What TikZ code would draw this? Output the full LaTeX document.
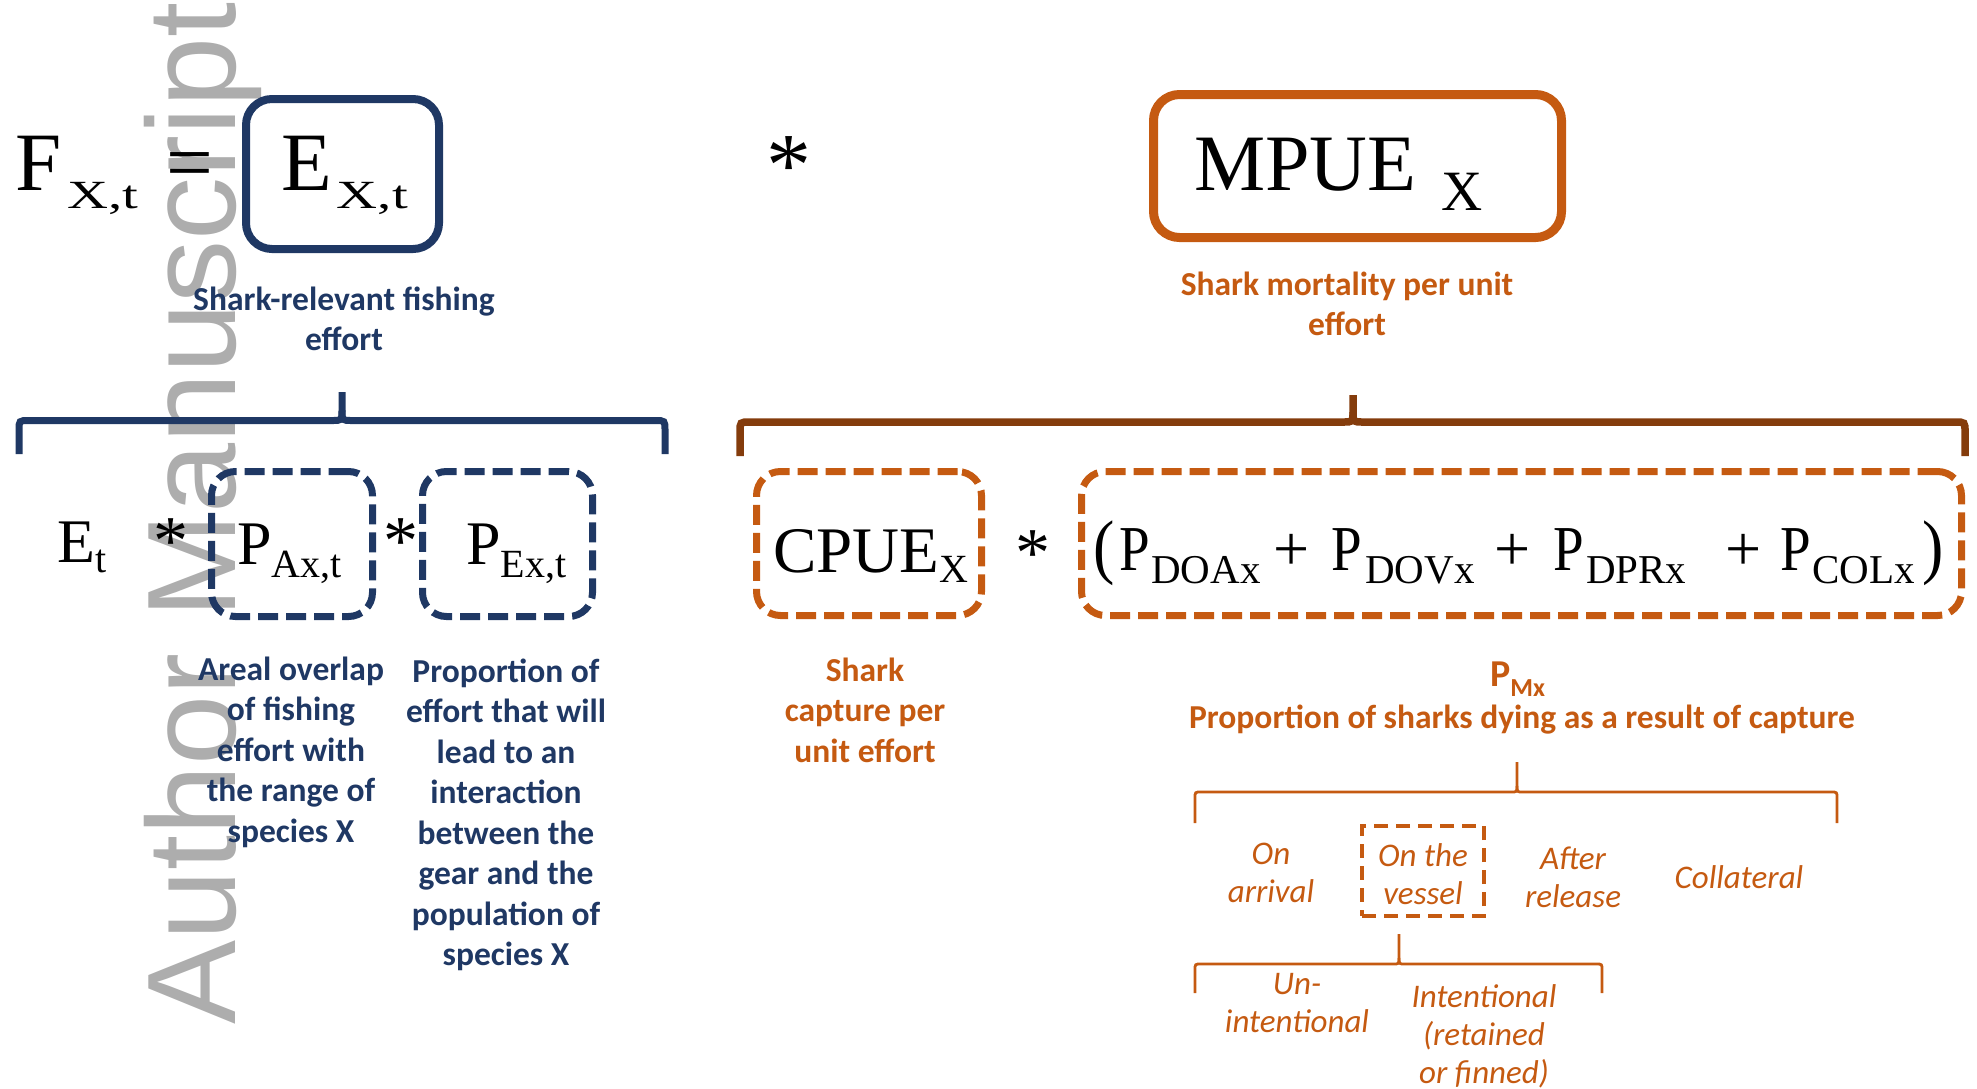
\documentclass[tikz,border=0pt]{standalone}
\usepackage{fontspec}
\setmainfont{Liberation Serif}
\newfontfamily\capfont{Carlito}
\newfontfamily\wmfont{Liberation Sans}
\definecolor{navy}{HTML}{1F3864}
\definecolor{orng}{HTML}{C55A11}
\definecolor{brwn}{HTML}{843C0C}
\definecolor{wmgray}{HTML}{ADADAD}
\newcommand{\fsb}[2]{\fontsize{#1}{#2}\selectfont}
\newcommand{\sbx}[3]{\raisebox{-#1pt}{\fontsize{#2}{#2}\selectfont #3}}
\newcommand{\wsbx}[3]{\raisebox{-#1pt}{\fontsize{#2}{#2}\selectfont\scalebox{1.42}[1]{#3}}}
\newcommand{\mybrace}[8]{%
  \draw[#1] (#2,#6) -- (#2,#5+#8) .. controls (#2,#5) and (#2,#5) .. (#2+#8,#5)
     -- (#4-#8,#5) .. controls (#4,#5) and (#4,#5) .. (#4,#5-#8) -- (#4,#7);
  \draw[#1] (#4,#5-#8) .. controls (#4,#5) and (#4,#5) .. (#4+#8,#5)
     -- (#3-#8,#5) .. controls (#3,#5) and (#3,#5) .. (#3,#5+#8) -- (#3,#6);
}
\tikzset{
  mtext/.style={anchor=base west, inner sep=0pt, text=black},
  ctext/.style={anchor=base, inner sep=0pt, text=black},
  solidbox/.style={draw=#1, line width=8pt, rounded corners=26pt, inner sep=0pt},
  dashbox/.style={draw=#1, line width=7pt, rounded corners=24pt, dash pattern=on 20pt off 8pt, inner sep=0pt},
  vesselbox/.style={draw=orng, line width=4pt, dash pattern=on 14pt off 8pt, inner sep=0pt},
  capn/.style={font=\capfont\bfseries\fsb{33.5}{40.5}, align=center, text=navy, inner sep=0pt},
  capo/.style={font=\capfont\bfseries\fsb{33.5}{40.5}, align=center, text=orng, inner sep=0pt},
  itl/.style={font=\capfont\itshape\fsb{33}{38}, align=center, text=orng, inner sep=0pt},
  wm/.style={font=\wmfont\fsb{126}{126}, text=wmgray, inner sep=0pt},
  mainf/.style={font=\fsb{64}{64}},
  subf/.style={font=\fsb{41}{41}},
  navybr/.style={draw=navy, line width=7pt},
  brwnbr/.style={draw=brwn, line width=7.5pt},
  thinbr/.style={draw=orng, line width=2.8pt}
}
\newcommand{\nP}{\scalebox{0.86}[1]{P}}
\begin{document}
\begin{tikzpicture}[x=1pt,y=-1pt]
\useasboundingbox (0,0) rectangle (1977,1088);
% watermark
\node[wm, rotate=90, anchor=base west] (wm) at (235,1025) {Author Manuscript};
% ---- top row
\node[mtext, font=\fsb{83}{83}] (F) at (15,190) {F\hspace{6pt}\wsbx{18}{40}{X,t}};
\node[mtext, font=\fsb{83}{83}] (eq) at (166,190) {=};
\node[solidbox=navy, minimum width=193pt, minimum height=150pt] (Ebox) at (342.5,174) {};
\node[mtext, font=\fsb{83}{83}] (Etext) at (281,190) {E\hspace{5pt}\wsbx{18}{40}{X,t}};
\node[capn] (Ecap) at (344,319) {Shark-relevant fishing\\effort};
\node[ctext, font=\fsb{90}{90}] (s1) at (789,195) {*};
\node[solidbox=orng, line width=9pt, minimum width=408pt, minimum height=143pt] (Mbox) at (1357.5,166) {};
\node[mtext, font=\fsb{80}{80}] (Mtext) at (1194,190) {MPUE\hspace{25pt}\sbx{20}{57}{X}};
\node[capo] (Mcap) at (1347,304) {Shark mortality per unit\\effort};
% ---- braces
\mybrace{navybr}{19}{665}{342}{420.5}{454}{392}{10}
\mybrace{brwnbr}{740}{1965}{1353}{422}{456}{395}{10}
% ---- second row, navy
\node[mtext, font=\fsb{62}{62}] (Et) at (57,562) {E\sbx{10}{40}{t}};
\node[ctext, font=\fsb{70}{70}] (s2) at (171,564) {*};
\node[dashbox=navy, minimum width=161pt, minimum height=145pt] (PAbox) at (292,544) {};
\node[mtext, font=\fsb{62}{62}] (PA) at (237,564) {P\sbx{13}{40}{Ax,t}};
\node[ctext, font=\fsb{70}{70}] (s3) at (401,564) {*};
\node[dashbox=navy, minimum width=170pt, minimum height=145pt] (PEbox) at (507.5,544) {};
\node[mtext, font=\fsb{62}{62}] (PE) at (466,564) {P\sbx{13}{40}{Ex,t}};
\node[capn] (PAcap) at (291,752) {Areal overlap\\of fishing\\effort with\\the range of\\species X};
\node[capn] (PEcap) at (506,815) {Proportion of\\effort that will\\lead to an\\interaction\\between the\\gear and the\\population of\\species X};
% ---- second row, orange
\node[dashbox=orng, minimum width=225pt, minimum height=144pt] (Cbox) at (869,543.5) {};
\node[mtext, font=\fsb{65}{65}] (Ctext) at (773,572) {CPUE\sbx{10}{40}{X}};
\node[ctext, font=\fsb{70}{70}] (s4) at (1033,576) {*};
\node[dashbox=orng, minimum width=880pt, minimum height=144pt] (Pbox) at (1521.5,543.5) {};
% formula pieces
\node[mtext, mainf] (lpar) at (1093,570) {\scalebox{1}[1.12]{(}};
\node[mtext, mainf] (p1) at (1119,570) {\nP};
\node[mtext, subf] (s1sub) at (1151,583) {DOAx};
\node[ctext, mainf] (plus1) at (1292,570) {+};
\node[mtext, mainf] (p2) at (1331,570) {\nP};
\node[mtext, subf] (s2sub) at (1365,583) {DOVx};
\node[ctext, mainf] (plus2) at (1513,570) {+};
\node[mtext, mainf] (p3) at (1553,570) {\nP};
\node[mtext, subf] (s3sub) at (1586,583) {DPRx};
\node[ctext, mainf] (plus3) at (1744,570) {+};
\node[mtext, mainf] (p4) at (1780,570) {\nP};
\node[mtext, subf] (s4sub) at (1812,583) {COLx};
\node[mtext, mainf] (rpar) at (1922,570) {\scalebox{1}[1.12]{)}};
\node[capo] (Ccap) at (865,710) {Shark\\capture per\\unit effort};
\node[mtext, text=orng, font=\capfont\bfseries\fsb{38}{38}] (PM) at (1490,686) {P\sbx{10}{26}{Mx}};
\node[capo] (PMcap) at (1522,720) {Proportion of sharks dying as a result of capture};
% ---- mortality components
\mybrace{thinbr}{1195}{1837}{1517}{792}{823}{762}{6}
\node[vesselbox, minimum width=122pt, minimum height=90pt] (Vbox) at (1423,871) {};
\node[itl] (arr) at (1271,872.5) {On\\arrival};
\node[itl] (ves) at (1423,874) {On the\\vessel};
\node[itl] (rel) at (1573,877) {After\\release};
\node[itl] (col) at (1739,877) {Collateral};
\mybrace{thinbr}{1195}{1602}{1399}{964}{993}{934}{6}
\node[itl] (unint) at (1297,1003.5) {Un-\\intentional};
\node[itl] (intn) at (1484,1036) {Intentional\\(retained\\or finned)};
\end{tikzpicture}
\end{document}
